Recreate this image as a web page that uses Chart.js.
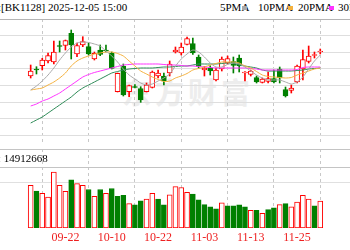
<!DOCTYPE html>
<html><head><meta charset="utf-8">
<script src="https://cdn.jsdelivr.net/npm/chart.js@4/dist/chart.umd.min.js"></script>
<style>
html,body{margin:0;padding:0;background:#fff;width:350px;height:250px;overflow:hidden;position:relative;font-family:'Liberation Serif',serif;}
.t{position:absolute;font-size:11px;line-height:13px;color:#000;white-space:nowrap;}
.sq{position:absolute;width:5px;height:4px;top:6px;}
#wm{position:absolute;left:122px;top:70px;font:bold 29px 'Noto Sans CJK SC';color:#ededed;letter-spacing:4px;white-space:nowrap;}
#pw{position:absolute;left:0;top:19px;width:350px;height:126px;}
#vw{position:absolute;left:0;top:145px;width:350px;height:105px;}
#vl{position:absolute;left:0;top:150px;width:350px;height:17px;background:#fff;}
</style></head><body>
<div id="wm">东方财富</div>
<div class="t" style="left:-2px;top:1px;">:[BK1128] 2025-12-05 15:00</div>
<div class="t" style="left:220px;top:1px;">5PMA</div><div class="sq" style="left:242px;background:#a9a9a9;"></div>
<div class="t" style="left:258px;top:1px;">10PMA</div><div class="sq" style="left:288px;background:#f4b13e;"></div>
<div class="t" style="left:298px;top:1px;">20PMA</div><div class="sq" style="left:329px;background:#ff33ff;"></div>
<div class="t" style="left:338px;top:1px;">30PMA</div>
<div id="pw"><canvas id="pc"></canvas></div>
<div id="vw"><canvas id="vc"></canvas></div>
<div class="t" id="vlt" style="left:-2px;top:152px;">: 14912668</div>
<script>
const dates = ['09-12','09-15','09-16','09-17','09-18','09-19','09-22','09-23','09-24','09-25','09-26','09-29','09-30','10-09','10-10','10-13','10-14','10-15','10-16','10-17','10-20','10-21','10-22','10-23','10-24','10-27','10-28','10-29','10-30','10-31','11-03','11-04','11-05','11-06','11-07','11-10','11-11','11-12','11-13','11-14','11-17','11-18','11-19','11-20','11-21','11-24','11-25','11-26','11-27','11-28','12-01'];
const tickLabels = ['09-22','10-10','10-22','11-03','11-13','11-25'];
const opens = [74,81,84.3,89,88,104.5,104.5,116.7,96,105,103.3,91,100,100,96.7,58.3,84,58.3,63.5,61.5,58.3,62.5,74,74,77,98,97,105.5,106.5,93,80,82,70,81,87,88.5,92,77,75.5,72.5,67.7,68.5,71.5,81,60.5,59.5,68,81,88.5,94.5,98];
const closes = [79,80,90,94.3,98,103.5,109.5,105,104.5,108.3,96,96.7,95.7,99,81.7,76.7,55,64.5,62.5,50,65,78,77,69,86,100,103,111.5,97,83.5,82,79,80,91,91.5,84.5,84,78,79,68,71,71.5,68,72,54,62,84,90.5,94,95.5,99];
const highs = [85,83.3,91.7,97,109,109,110,120,107,113.3,107,98,105,105,98,77,86,65,65.5,63.3,67,79,80,77,89,103,107,113,112,95,83.5,84.3,82,93,94,93,95,78.3,80,74,72,78,80,83,63,65,85,100,104,98,101];
const lows = [72,76,80,87,86,98,100,91,93.3,103.3,95,90,94.3,98,81,58,54,53.3,62,47.7,58,62,72,65,74,97,95,105,95.5,82,74,75,69,79,86,77,78,69,74,67,67,67,67,67,53,57,67,70,87,92,96];
const ma5 = [60,64,69,75,82,90,97,103,107,108,107.5,106,104,99,94,88,81,75,71,67,65,66,69,72,76,84,91,96,100,98,93,87,83,83,85.5,87,86,83,79,75,72,70,70,70,68,66,68,73,81,89,95];
const ma10 = [60,61,62,65,68,72,77,84,89,92,94,96,97,98,98,96.5,94,89,84,79,76,73,70.5,68.5,69,72,74,76.5,80,81.5,83,85,86.5,88,88,88,87,84,82,78.5,75,73.5,73,72.5,72,72.5,75,77,79,81,82];
const ma20 = [44,46,49,51,54,57,61,65,69,73,75.5,77.5,79,80.5,82,83.5,85,85.5,86,86,86,86,86,85.5,85,85,84.5,84,84,83.5,83,82.5,82,82,82,82,82,82,81.5,81,80,80,80,80,80,80,80.5,82.5,83,83,83];
const ma30 = [27,30,33,37,41,45,49,53,58,62,65,68,71,74,77,78.5,80,81,81.5,82,82,82,82.5,83,83,83.5,84,84,85,86,86,86,86,86.5,87,86.5,85,84,83,82,80,79,79,79,79,79,79.5,80,81,81.5,82];
const volumes = [22150000,19150000,18000000,16000000,29000000,22150000,19000000,25000000,23000000,22150000,20000000,16500000,20000000,18000000,20500000,16500000,17000000,12650000,12000000,14150000,15000000,18000000,15000000,12000000,17150000,21500000,21000000,18500000,17650000,14650000,12150000,11000000,10000000,13000000,11500000,11500000,12000000,11000000,9150000,9150000,7650000,9500000,10500000,12150000,12650000,11000000,13500000,17000000,15000000,11500000,14000000];
const volRise = [1,0,1,1,1,1,1,0,1,1,0,1,0,1,0,0,0,1,0,0,1,1,0,0,1,1,1,1,0,0,0,0,0,1,0,0,0,0,1,0,1,0,0,1,0,1,1,1,1,0,1];

const RED = '#ff0000', GREEN = '#008000';
const tickIdx = tickLabels.map(l => dates.indexOf(l));
const up = opens.map((o, i) => closes[i] >= o);
const XMIN = -0.26, XMAX = 50.1;

function line(arr, color) {
  return {type: 'line', data: arr.map((v, i) => ({x: i, y: v})), borderColor: color, borderWidth: 1, pointRadius: 0, tension: 0.25, fill: false};
}
const xGrid = {
  type: 'linear', min: XMIN, max: XMAX,
  afterBuildTicks: s => { s.ticks = tickIdx.map(v => ({value: v})); },
  grid: {color: '#c8c8c8', lineWidth: 1, drawTicks: false},
  border: {display: false, dash: [3, 3]},
};
Chart.defaults.font.family = "'Liberation Serif', serif";

new Chart(document.getElementById('pc'), {
  type: 'bar',
  data: {datasets: [
    line(ma5, '#a9a9a9'), line(ma10, '#f4b13e'), line(ma20, '#ff33ff'), line(ma30, '#2e8b57'),
    {type: 'bar', data: opens.map((o, i) => ({x: i, y: [o, closes[i]]})),
     backgroundColor: up.map(u => u ? '#ffffff' : GREEN), borderColor: up.map(u => u ? RED : GREEN),
     borderWidth: 1, borderSkipped: false, barThickness: 5, grouped: false},
    {type: 'bar', data: lows.map((l, i) => ({x: i, y: [l, highs[i]]})),
     backgroundColor: up.map(u => u ? RED : GREEN), borderWidth: 0, barThickness: 1, grouped: false}
  ]},
  options: {
    responsive: true, maintainAspectRatio: false, animation: false, devicePixelRatio: 1,
    layout: {padding: 0},
    plugins: {legend: {display: false}, tooltip: {enabled: false}},
    scales: {
      x: Object.assign({}, xGrid, {ticks: {display: false}}),
      y: {min: 5, max: 131,
          afterBuildTicks: s => { s.ticks = [131, 114.4, 97.8, 81.2, 64.6, 48, 31.4, 14.8].map(v => ({value: v})); },
          ticks: {display: false},
          grid: {drawTicks: false, color: c => c.tick && c.tick.value === 131 ? '#b4b4b4' : '#dedede'},
          border: {display: false}}
    }
  }
});

new Chart(document.getElementById('vc'), {
  type: 'bar',
  data: {datasets: [
    {data: volumes.map((v, i) => ({x: i, y: v})),
     backgroundColor: volRise.map(r => r ? '#ffffff' : GREEN), borderColor: volRise.map(r => r ? RED : GREEN),
     borderWidth: 1, borderSkipped: false, barThickness: 5, grouped: false}
  ]},
  options: {
    responsive: true, maintainAspectRatio: false, animation: false, devicePixelRatio: 1,
    layout: {padding: {top: 4, bottom: 1.6, left: 0, right: 0}},
    plugins: {legend: {display: false}, tooltip: {enabled: false}},
    scales: {
      x: Object.assign({}, xGrid, {ticks: {display: true, autoSkip: false, maxRotation: 0, padding: 3, color: '#ee2020', font: {size: 12}, callback: v => dates[v]}}),
      y: {min: 0, max: 41000000,
          afterBuildTicks: s => { s.ticks = [41000000, 31500000, 23500000].map(v => ({value: v})); },
          ticks: {display: false},
          grid: {drawTicks: false, color: c => c.tick && c.tick.value >= 31500000 ? '#c4c4c4' : '#e0e0e0'},
          border: {display: false}}
    }
  }
});
</script>
</body></html>
